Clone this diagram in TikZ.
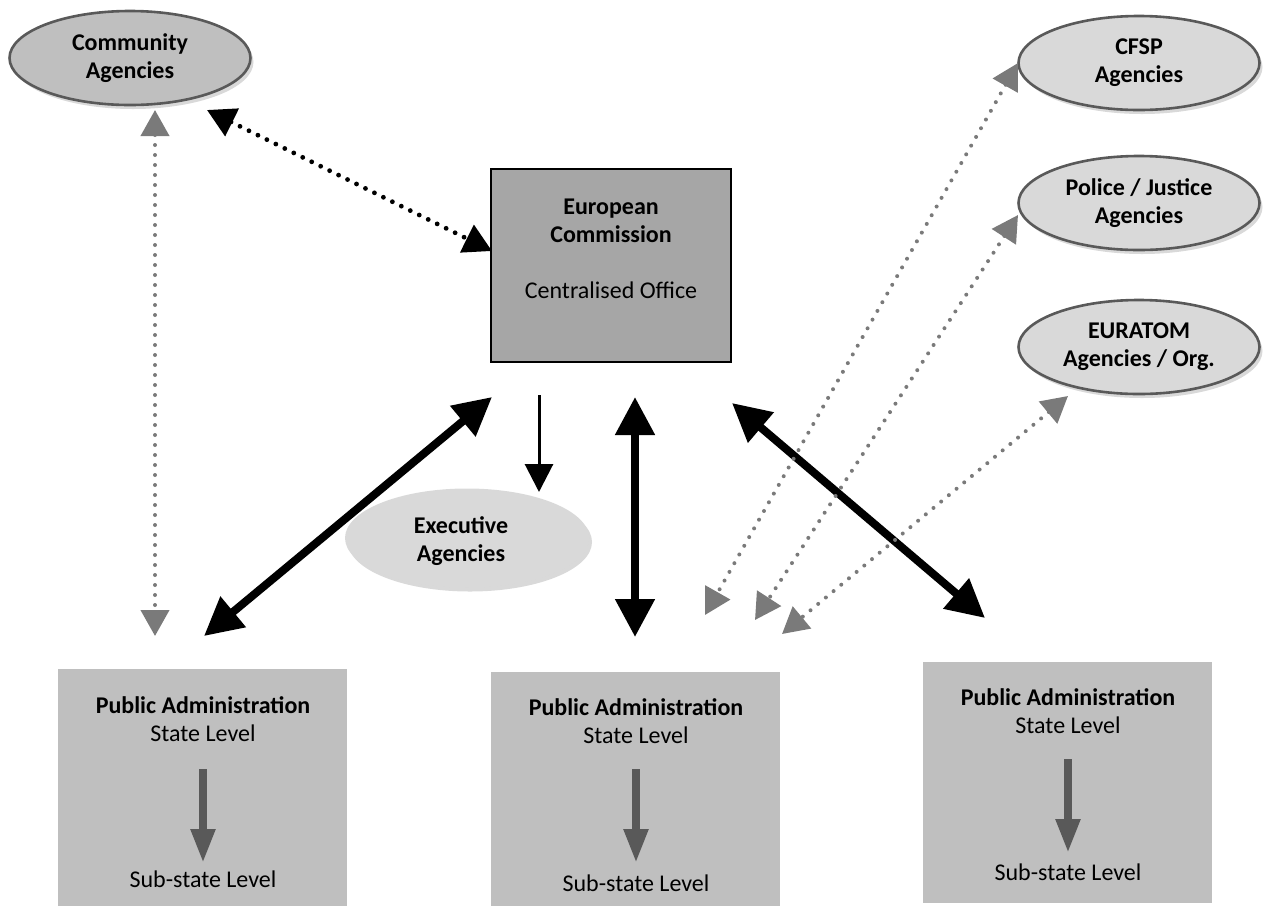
\documentclass[tikz,border=0pt]{standalone}
\usepackage{fontspec}
\setmainfont{Carlito}
\usepackage{tikz}
\usetikzlibrary{arrows.meta,shapes.geometric,shadows}
\definecolor{agency}{HTML}{BFBFBF}
\definecolor{agencylt}{HTML}{D9D9D9}
\definecolor{office}{HTML}{A6A6A6}
\definecolor{rim}{HTML}{595959}
\definecolor{link}{HTML}{7A7A7A}
\tikzset{
  shade/.style={drop shadow={shadow xshift=1.5pt, shadow yshift=-2pt, opacity=0.3}},
  agency/.style={ellipse, draw=rim, line width=1.3pt, fill=agencylt, inner sep=0pt,
    minimum width=120.5pt, minimum height=47pt, align=center, font=\fontsize{12}{14}\selectfont\bfseries, shade},
  office/.style={draw=black, line width=0.8pt, fill=office, minimum width=120pt, minimum height=96.5pt},
  admin/.style={fill=agency, inner sep=0pt, minimum width=144.5pt},
  lab/.style={align=center, text=black},
  bold/.style={draw=black, line width=4pt, arrows={Triangle[length=19pt,width=19pt]-Triangle[length=19pt,width=19pt]}},
  thin/.style={draw=black, line width=1.5pt, arrows={-Triangle[length=14pt,width=14pt]}},
  dots/.style={draw=link, line width=2pt, line cap=round, dash pattern=on 0pt off 5pt,
    arrows={Triangle[length=13pt,width=14pt]-Triangle[length=13pt,width=14pt]}},
  bdots/.style={draw=black, line width=2.4pt, line cap=round, dash pattern=on 0pt off 5pt,
    arrows={Triangle[length=14pt,width=15pt]-Triangle[length=14pt,width=15pt]}},
  down/.style={draw=rim, line width=4pt, arrows={-Triangle[length=17pt,width=11.5pt]}},
}
\begin{document}
\begin{tikzpicture}[x=0.5pt, y=-0.5pt, font=\fontsize{12}{14}\selectfont]
  \useasboundingbox (0,0) rectangle (1264,906);
  % agencies
  \node[agency, fill=agency] (comm) at (130,58) {Community\\Agencies};
  \node[agency] (cfsp) at (1139,63) {CFSP\\Agencies};
  \node[agency] (pol) at (1139,203) {Police / Justice\\Agencies};
  \node[agency] (eur) at (1139,347) {EURATOM\\Agencies / Org.};
  \node[agency, draw=none, minimum width=122pt, minimum height=49.5pt] (exec) at (467,538) {};
  \node[lab, font=\fontsize{12}{14}\selectfont\bfseries] (execT) at (461,541) {Executive\\Agencies};
  % commission
  \node[office] (ec) at (611,265.5) {};
  \node[lab] (ecT) at (611,249) {\textbf{European}\\\textbf{Commission}\\[14pt]Centralised Office};
  % public administrations
  \node[admin, minimum height=118.5pt] (pa1) at (202.5,787.5) {};
  \node[admin, minimum height=117pt] (pa2) at (635.5,789) {};
  \node[admin, minimum height=120.5pt] (pa3) at (1067.5,782.5) {};
  \node[lab] (pa1T) at (203,719) {\textbf{Public Administration}\\State Level};
  \node[lab] (pa2T) at (636,721) {\textbf{Public Administration}\\State Level};
  \node[lab] (pa3T) at (1068,711) {\textbf{Public Administration}\\State Level};
  \node[lab] (pa1S) at (203,879) {Sub-state Level};
  \node[lab] (pa2S) at (636,883) {Sub-state Level};
  \node[lab] (pa3S) at (1068,872) {Sub-state Level};
  \draw[down] (203,769) -- (203,863);
  \draw[down] (636,769) -- (636,863);
  \draw[down] (1068,759) -- (1068,853);
  % free ends of the links
  \coordinate (commUp) at (155,110);
  \coordinate (commDn) at (155,636);
  \coordinate (commEc) at (207,110);
  \coordinate (ecComm) at (492,251);
  \coordinate (ecL) at (492,397);
  \coordinate (paL) at (204,636);
  \coordinate (ecM) at (635,397);
  \coordinate (paM) at (635,637);
  \coordinate (ecR) at (732,403);
  \coordinate (paR) at (985,618);
  \coordinate (ecX) at (539,395);
  \coordinate (xEc) at (539,492);
  \coordinate (cfspL) at (1018,63);
  \coordinate (cfspD) at (705,615);
  \coordinate (polL) at (1018,215);
  \coordinate (polD) at (755,620);
  \coordinate (eurL) at (1068,396);
  \coordinate (eurD) at (782,634);
  % links
  \draw[dots] (commUp) -- (commDn);
  \draw[bdots] (commEc) -- (ecComm);
  \draw[bold] (ecL) -- (paL);
  \draw[bold] (ecM) -- (paM);
  \draw[bold] (ecR) -- (paR);
  \draw[thin] (ecX) -- (xEc);
  \draw[dots] (cfspL) -- (cfspD);
  \draw[dots] (polL) -- (polD);
  \draw[dots] (eurL) -- (eurD);
\end{tikzpicture}
\end{document}
